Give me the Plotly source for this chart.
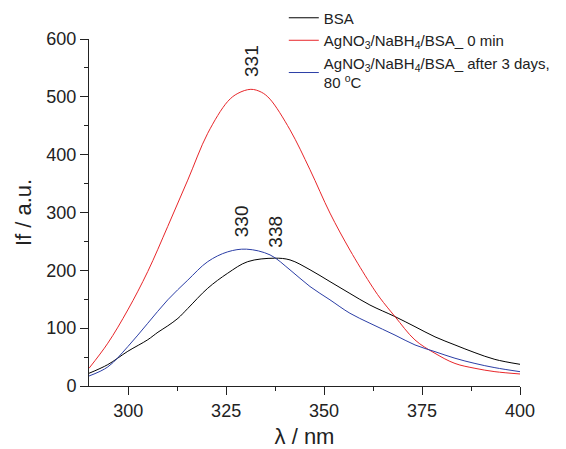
import plotly.graph_objects as go

# BSA (black)
bsa_x = [290, 294.8, 299.9, 305, 307.6, 310.1, 312.7, 315.2, 320.3, 325.4, 330.5, 337.3, 341.3, 346.4, 351.5, 356.6, 361.7, 368.1, 373.2, 378.3, 383.4, 388.5, 393.6, 400]
bsa_y = [22, 37, 60, 80, 93, 104, 117, 134, 169, 195, 215, 221, 218, 201, 180.5, 160, 140, 120, 102.6, 85, 71, 57.6, 46, 37.5]

# AgNO3/NaBH4/BSA 0 min (red)
red_x = [290, 294.8, 299.9, 305, 310.1, 315.2, 320.3, 325.4, 328, 331.3, 334, 336.2, 341.3, 346.4, 351.5, 356.6, 361.7, 364.3, 368.1, 373.2, 378.3, 383.4, 388.5, 393.6, 400]
red_y = [30.6, 74, 131.5, 198, 276, 356, 437, 492, 506, 513, 508, 496, 443, 374, 299, 235, 178, 152, 120, 79.6, 56.5, 39, 30.6, 24.8, 20.8]

# AgNO3/NaBH4/BSA after 3 days, 80 C (blue)
blue_x = [290, 294.8, 299.9, 305, 310.1, 315.2, 320.3, 325.4, 330.2, 336.2, 341.3, 346.4, 351.5, 356.6, 361.7, 368.1, 373.2, 378.3, 383.4, 388.5, 393.6, 400]
blue_y = [17.3, 33, 68, 108.5, 149, 183, 215, 232, 236.6, 226.7, 200.8, 172, 149, 125.8, 108.5, 88, 71, 59.4, 48, 39, 31.7, 24.8]

names = ["BSA", "AgNO<sub>3</sub>/NaBH<sub>4</sub>/BSA_ 0 min",
         "AgNO<sub>3</sub>/NaBH<sub>4</sub>/BSA_ after 3 days,<br>80 <sup>o</sup>C"]
colors = ["#000000", "#e8262a", "#2b3ea6"]

peak_labels = ["331", "330", "338"]
peak_x = [331.6, 328.8, 337.6]
peak_y = [562, 285, 266]

fig = go.Figure()
for xs, ys, nm, c in [(bsa_x, bsa_y, names[0], colors[0]),
                      (red_x, red_y, names[1], colors[1]),
                      (blue_x, blue_y, names[2], colors[2])]:
    fig.add_trace(go.Scatter(x=xs, y=ys, mode="lines", name=nm,
                             line=dict(color=c, width=1, shape="spline", smoothing=1.0)))

for t, px, py in zip(peak_labels, peak_x, peak_y):
    fig.add_annotation(x=px, y=py, text=t, showarrow=False, textangle=-90,
                       font=dict(size=19, color="#222"))

font_family = "Liberation Sans, Arial, sans-serif"
# page body has an 8px default margin; the figure is sized to fill the rest
fig.update_layout(
    width=558, height=441,
    margin=dict(l=81, r=46, t=31, b=63, autoexpand=False),
    paper_bgcolor="white", plot_bgcolor="white",
    font=dict(family=font_family, color="#222"),
    showlegend=True,
    legend=dict(x=0.452, y=1.108, xanchor="left", yanchor="top",
                font=dict(size=15, color="#222"), bgcolor="rgba(0,0,0,0)",
                tracegroupgap=0, itemwidth=30),
    xaxis=dict(range=[290, 400], tickvals=[300, 325, 350, 375, 400], automargin=False,
               ticks="outside", ticklen=8, tickwidth=1, tickcolor="#222",
               showline=True, linecolor="#222", linewidth=1, showgrid=False, zeroline=False,
               minor=dict(tickvals=[312.5, 337.5, 362.5, 387.5], ticks="outside", ticklen=4,
                          tickcolor="#222", showgrid=False),
               tickfont=dict(size=18), ticklabelstandoff=0,
               title=dict(text="λ / nm", font=dict(size=22), standoff=22)),
    yaxis=dict(range=[0, 600], tickvals=[0, 100, 200, 300, 400, 500, 600], automargin=False,
               ticks="outside", ticklen=8, tickwidth=1, tickcolor="#222",
               showline=True, linecolor="#222", linewidth=1, showgrid=False, zeroline=False,
               minor=dict(tickvals=[50, 150, 250, 350, 450, 550], ticks="outside", ticklen=4,
                          tickcolor="#222", showgrid=False),
               tickfont=dict(size=18), ticklabelstandoff=0,
               title=dict(text="If / a.u.", font=dict(size=22), standoff=8)),
)

fig.write_html("out.html")
